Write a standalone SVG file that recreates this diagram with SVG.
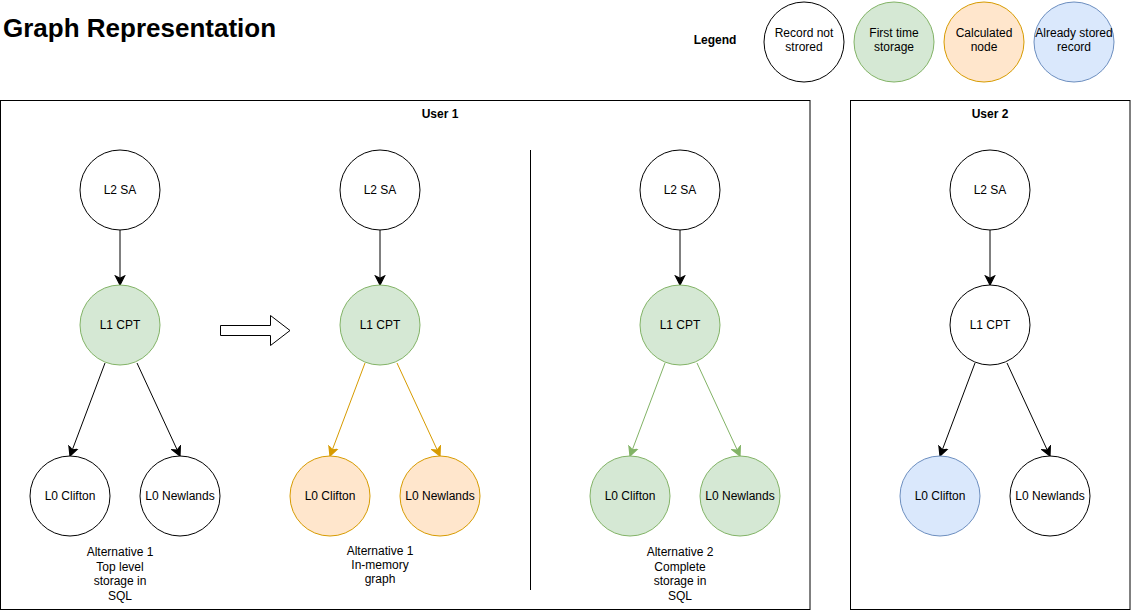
<svg xmlns="http://www.w3.org/2000/svg" width="1131" height="611" viewBox="0 0 1131 611">
<style>
text{font-family:"Liberation Sans",Arial,Helvetica,sans-serif;font-size:12px;fill:#000;text-anchor:middle}
.b{font-weight:bold}
.w{fill:#fff;stroke:#000;stroke-width:1}
.g{fill:#d5e8d4;stroke:#82b366;stroke-width:1}
.o{fill:#ffe6cc;stroke:#d79b00;stroke-width:1}
.bl{fill:#dae8fc;stroke:#6c8ebf;stroke-width:1}
.e{fill:none;stroke:#000;stroke-width:1;marker-end:url(#ak)}
.eo{fill:none;stroke:#d79b00;stroke-width:1;marker-end:url(#ao)}
.eg{fill:none;stroke:#82b366;stroke-width:1;marker-end:url(#ag)}
.box{fill:#fff;stroke:#000;stroke-width:1}
</style>
<defs>
<marker id="ak" markerUnits="userSpaceOnUse" markerWidth="12" markerHeight="12" viewBox="-8 -5 10 10" refX="0" refY="0" orient="auto"><path d="M0,0 L-7.5,-3.8 L-5.5,0 L-7.5,3.8 Z" fill="#000" stroke="#000" stroke-width="1"/></marker>
<marker id="ao" markerUnits="userSpaceOnUse" markerWidth="12" markerHeight="12" viewBox="-8 -5 10 10" refX="0" refY="0" orient="auto"><path d="M0,0 L-7.5,-3.8 L-5.5,0 L-7.5,3.8 Z" fill="#d79b00" stroke="#d79b00" stroke-width="1"/></marker>
<marker id="ag" markerUnits="userSpaceOnUse" markerWidth="12" markerHeight="12" viewBox="-8 -5 10 10" refX="0" refY="0" orient="auto"><path d="M0,0 L-7.5,-3.8 L-5.5,0 L-7.5,3.8 Z" fill="#82b366" stroke="#82b366" stroke-width="1"/></marker>
</defs>
<rect width="1131" height="611" fill="#fff"/>
<text x="3" y="37" class="b" style="font-size:26px;text-anchor:start">Graph Representation</text>

<g id="legend">
<text x="715" y="44" class="b">Legend</text>
<g id="leg-notstored"><circle cx="804" cy="42" r="40" class="w"/><text x="804" y="37">Record not</text><text x="804" y="51">strored</text></g>
<g id="leg-first"><circle cx="894" cy="42" r="40" class="g"/><text x="894" y="37">First time</text><text x="894" y="51">storage</text></g>
<g id="leg-calc"><circle cx="984" cy="42" r="40" class="o"/><text x="984" y="37">Calculated</text><text x="984" y="51">node</text></g>
<g id="leg-already"><circle cx="1074" cy="42" r="40" class="bl"/><text x="1074" y="37">Already stored</text><text x="1074" y="51">record</text></g>
</g>

<g id="user1">
<rect x="0.5" y="100.5" width="809.5" height="509" class="box"/>
<text x="440" y="118" class="b">User 1</text>
<line x1="530.5" y1="150" x2="530.5" y2="590" stroke="#000" stroke-width="1"/>
<polygon id="bigarrow" points="220.5,325.5 270.5,325.5 270.5,315.5 290,330.5 270.5,345.5 270.5,335.5 220.5,335.5" fill="#fff" stroke="#000" stroke-width="1"/>
</g>
<g id="user2">
<rect x="850.5" y="100.5" width="279.5" height="509" class="box"/>
<text x="990" y="118" class="b">User 2</text>
</g>

<g id="connectors">
<line x1="120" y1="230" x2="120" y2="285" class="e"/>
<line x1="105" y1="363" x2="70" y2="456" class="e"/>
<line x1="137" y1="363" x2="180" y2="456" class="e"/>
<line x1="380" y1="230" x2="380" y2="285" class="e"/>
<line x1="365" y1="363" x2="330" y2="456" class="eo"/>
<line x1="397" y1="363" x2="440" y2="456" class="eo"/>
<line x1="680" y1="230" x2="680" y2="285" class="e"/>
<line x1="665" y1="363" x2="630" y2="456" class="eg"/>
<line x1="697" y1="363" x2="740" y2="456" class="eg"/>
<line x1="990" y1="230" x2="990" y2="285" class="e"/>
<line x1="975" y1="363" x2="940" y2="456" class="e"/>
<line x1="1007" y1="363" x2="1050" y2="456" class="e"/>
</g>

<g id="a1-l2"><circle cx="120" cy="190" r="40" class="w"/><text x="120" y="194">L2 SA</text></g>
<g id="a1-l1"><circle cx="120" cy="325" r="40" class="g"/><text x="120" y="329">L1 CPT</text></g>
<g id="a1-clifton"><circle cx="70" cy="496" r="40" class="w"/><text x="70" y="500">L0 Clifton</text></g>
<g id="a1-newlands"><circle cx="180" cy="496" r="40" class="w"/><text x="180" y="500">L0 Newlands</text></g>
<g id="a1-caption"><text x="120" y="556">Alternative 1</text><text x="120" y="571">Top level</text><text x="120" y="585">storage in</text><text x="120" y="600">SQL</text></g>

<g id="a1m-l2"><circle cx="380" cy="190" r="40" class="w"/><text x="380" y="194">L2 SA</text></g>
<g id="a1m-l1"><circle cx="380" cy="325" r="40" class="g"/><text x="380" y="329">L1 CPT</text></g>
<g id="a1m-clifton"><circle cx="330" cy="496" r="40" class="o"/><text x="330" y="500">L0 Clifton</text></g>
<g id="a1m-newlands"><circle cx="440" cy="496" r="40" class="o"/><text x="440" y="500">L0 Newlands</text></g>
<g id="a1m-caption"><text x="380" y="555">Alternative 1</text><text x="380" y="569">In-memory</text><text x="380" y="583">graph</text></g>

<g id="a2-l2"><circle cx="680" cy="190" r="40" class="w"/><text x="680" y="194">L2 SA</text></g>
<g id="a2-l1"><circle cx="680" cy="325" r="40" class="g"/><text x="680" y="329">L1 CPT</text></g>
<g id="a2-clifton"><circle cx="630" cy="496" r="40" class="g"/><text x="630" y="500">L0 Clifton</text></g>
<g id="a2-newlands"><circle cx="740" cy="496" r="40" class="g"/><text x="740" y="500">L0 Newlands</text></g>
<g id="a2-caption"><text x="680" y="556">Alternative 2</text><text x="680" y="571">Complete</text><text x="680" y="585">storage in</text><text x="680" y="600">SQL</text></g>

<g id="u2-l2"><circle cx="990" cy="190" r="40" class="w"/><text x="990" y="194">L2 SA</text></g>
<g id="u2-l1"><circle cx="990" cy="325" r="40" class="w"/><text x="990" y="329">L1 CPT</text></g>
<g id="u2-clifton"><circle cx="940" cy="496" r="40" class="bl"/><text x="940" y="500">L0 Clifton</text></g>
<g id="u2-newlands"><circle cx="1050" cy="496" r="40" class="w"/><text x="1050" y="500">L0 Newlands</text></g>
</svg>
